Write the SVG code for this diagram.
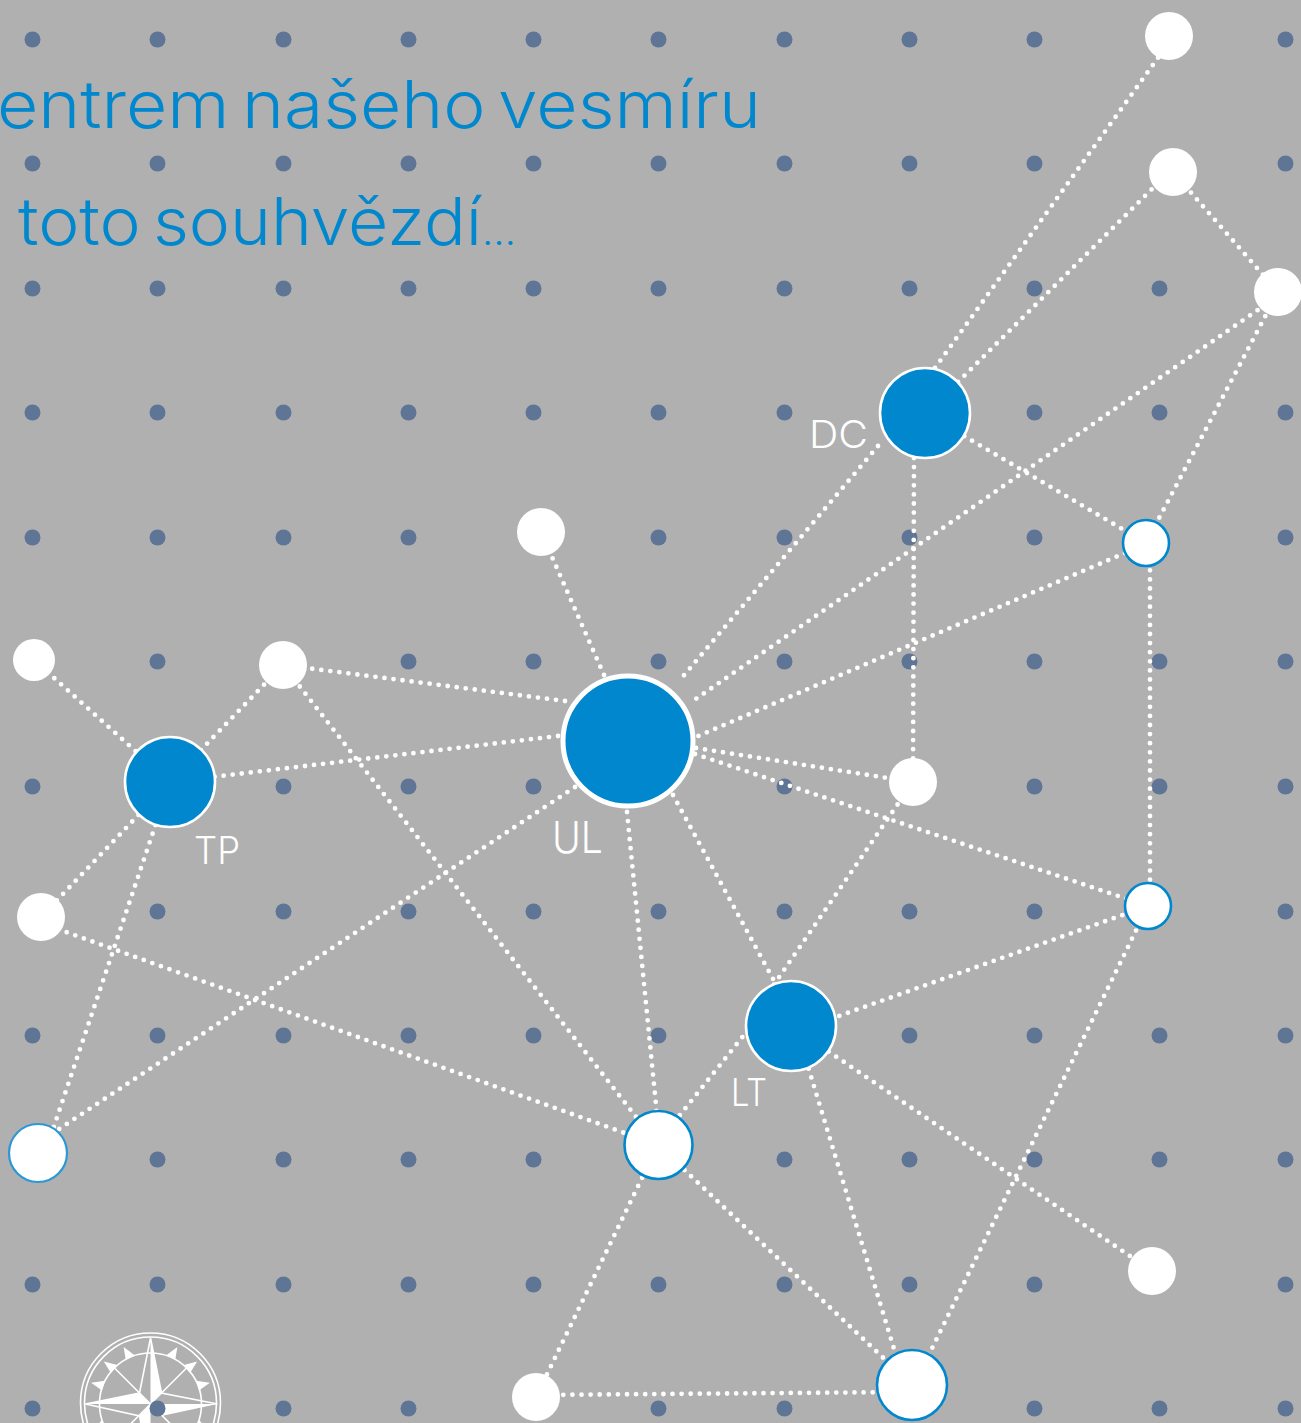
<svg xmlns="http://www.w3.org/2000/svg" xmlns:xlink="http://www.w3.org/1999/xlink" width="1301" height="1423" viewBox="0 0 1301 1423">
<style>
.g{fill:#5f7596}
.e{stroke:#fff;stroke-width:4.8;stroke-linecap:round;stroke-dasharray:0 9.1;fill:none}
.w{fill:#fff}
.b{fill:#fff;stroke:#0087cd;stroke-width:2.6}
.h{fill:#0087cd;stroke:#fff;stroke-width:2.6}
.t{font-family:"Inter","Liberation Sans",sans-serif;font-weight:300;fill:#0087cd;font-size:66px;word-spacing:-7px}
.l{font-family:"Inter","Liberation Sans",sans-serif;font-weight:300;fill:#fff;font-size:38px}
.c{fill:none;stroke:#fff;stroke-width:1.6}
</style>
<defs>
<circle id="d" r="8" class="g"/>
<path id="tri" d="M-6-50L4-51L-3-63Z" class="w"/>
</defs>
<rect width="1301" height="1423" fill="#b0b0b0"/>
<g id="compass" transform="translate(0.5 0)">
<circle cx="150" cy="1403" r="70" class="c"/>
<circle cx="150" cy="1403" r="66" class="c"/>
<circle cx="150" cy="1404" r="51" class="c"/>
<path class="c" d="M150 1404L114 1368M150 1404L186 1368M150 1404L114 1440M150 1404L186 1440"/>
<g transform="translate(150 1404)">
<use xlink:href="#tri" href="#tri" transform="rotate(-22.5)"/><use xlink:href="#tri" href="#tri" transform="rotate(-45)"/><use xlink:href="#tri" href="#tri" transform="rotate(-67.5)"/>
<use xlink:href="#tri" href="#tri" transform="scale(-1 1) rotate(-22.5)"/><use xlink:href="#tri" href="#tri" transform="scale(-1 1) rotate(-45)"/><use xlink:href="#tri" href="#tri" transform="scale(-1 1) rotate(-67.5)"/>
<use xlink:href="#tri" href="#tri" transform="rotate(-112.5)"/><use xlink:href="#tri" href="#tri" transform="scale(-1 1) rotate(-112.5)"/>
</g>
<path class="w" d="M150 1338L161 1393L150 1404ZM217 1404L161 1416L150 1404ZM85 1404L139 1393L150 1404ZM150 1470L139 1416L150 1404Z"/>
<path class="c" d="M150 1338L139 1393L85 1404L139 1416L150 1470M217 1404L161 1393L150 1338"/>
</g>
<g id="grid" transform="translate(0.5 0.5)">
<use xlink:href="#d" href="#d" x="32" y="39"/><use xlink:href="#d" href="#d" x="157" y="39"/><use xlink:href="#d" href="#d" x="283" y="39"/><use xlink:href="#d" href="#d" x="408" y="39"/><use xlink:href="#d" href="#d" x="533" y="39"/><use xlink:href="#d" href="#d" x="658" y="39"/><use xlink:href="#d" href="#d" x="784" y="39"/><use xlink:href="#d" href="#d" x="909" y="39"/><use xlink:href="#d" href="#d" x="1034" y="39"/><use xlink:href="#d" href="#d" x="1285" y="39"/>
<use xlink:href="#d" href="#d" x="32" y="163"/><use xlink:href="#d" href="#d" x="157" y="163"/><use xlink:href="#d" href="#d" x="283" y="163"/><use xlink:href="#d" href="#d" x="408" y="163"/><use xlink:href="#d" href="#d" x="533" y="163"/><use xlink:href="#d" href="#d" x="658" y="163"/><use xlink:href="#d" href="#d" x="784" y="163"/><use xlink:href="#d" href="#d" x="909" y="163"/><use xlink:href="#d" href="#d" x="1034" y="163"/><use xlink:href="#d" href="#d" x="1159" y="163"/><use xlink:href="#d" href="#d" x="1285" y="163"/>
<use xlink:href="#d" href="#d" x="32" y="288"/><use xlink:href="#d" href="#d" x="157" y="288"/><use xlink:href="#d" href="#d" x="283" y="288"/><use xlink:href="#d" href="#d" x="408" y="288"/><use xlink:href="#d" href="#d" x="533" y="288"/><use xlink:href="#d" href="#d" x="658" y="288"/><use xlink:href="#d" href="#d" x="784" y="288"/><use xlink:href="#d" href="#d" x="909" y="288"/><use xlink:href="#d" href="#d" x="1034" y="288"/><use xlink:href="#d" href="#d" x="1159" y="288"/>
<use xlink:href="#d" href="#d" x="32" y="412"/><use xlink:href="#d" href="#d" x="157" y="412"/><use xlink:href="#d" href="#d" x="283" y="412"/><use xlink:href="#d" href="#d" x="408" y="412"/><use xlink:href="#d" href="#d" x="533" y="412"/><use xlink:href="#d" href="#d" x="658" y="412"/><use xlink:href="#d" href="#d" x="784" y="412"/><use xlink:href="#d" href="#d" x="1034" y="412"/><use xlink:href="#d" href="#d" x="1159" y="412"/><use xlink:href="#d" href="#d" x="1285" y="412"/>
<use xlink:href="#d" href="#d" x="32" y="537"/><use xlink:href="#d" href="#d" x="157" y="537"/><use xlink:href="#d" href="#d" x="283" y="537"/><use xlink:href="#d" href="#d" x="408" y="537"/><use xlink:href="#d" href="#d" x="658" y="537"/><use xlink:href="#d" href="#d" x="784" y="537"/><use xlink:href="#d" href="#d" x="909" y="537"/><use xlink:href="#d" href="#d" x="1034" y="537"/><use xlink:href="#d" href="#d" x="1285" y="537"/>
<use xlink:href="#d" href="#d" x="157" y="661"/><use xlink:href="#d" href="#d" x="408" y="661"/><use xlink:href="#d" href="#d" x="533" y="661"/><use xlink:href="#d" href="#d" x="658" y="661"/><use xlink:href="#d" href="#d" x="784" y="661"/><use xlink:href="#d" href="#d" x="909" y="661"/><use xlink:href="#d" href="#d" x="1034" y="661"/><use xlink:href="#d" href="#d" x="1159" y="661"/><use xlink:href="#d" href="#d" x="1285" y="661"/>
<use xlink:href="#d" href="#d" x="32" y="786"/><use xlink:href="#d" href="#d" x="283" y="786"/><use xlink:href="#d" href="#d" x="408" y="786"/><use xlink:href="#d" href="#d" x="533" y="786"/><use xlink:href="#d" href="#d" x="784" y="786"/><use xlink:href="#d" href="#d" x="1034" y="786"/><use xlink:href="#d" href="#d" x="1159" y="786"/><use xlink:href="#d" href="#d" x="1285" y="786"/>
<use xlink:href="#d" href="#d" x="157" y="911"/><use xlink:href="#d" href="#d" x="283" y="911"/><use xlink:href="#d" href="#d" x="408" y="911"/><use xlink:href="#d" href="#d" x="533" y="911"/><use xlink:href="#d" href="#d" x="658" y="911"/><use xlink:href="#d" href="#d" x="784" y="911"/><use xlink:href="#d" href="#d" x="909" y="911"/><use xlink:href="#d" href="#d" x="1034" y="911"/><use xlink:href="#d" href="#d" x="1285" y="911"/>
<use xlink:href="#d" href="#d" x="32" y="1035"/><use xlink:href="#d" href="#d" x="157" y="1035"/><use xlink:href="#d" href="#d" x="283" y="1035"/><use xlink:href="#d" href="#d" x="408" y="1035"/><use xlink:href="#d" href="#d" x="533" y="1035"/><use xlink:href="#d" href="#d" x="658" y="1035"/><use xlink:href="#d" href="#d" x="909" y="1035"/><use xlink:href="#d" href="#d" x="1034" y="1035"/><use xlink:href="#d" href="#d" x="1159" y="1035"/><use xlink:href="#d" href="#d" x="1285" y="1035"/>
<use xlink:href="#d" href="#d" x="157" y="1159"/><use xlink:href="#d" href="#d" x="283" y="1159"/><use xlink:href="#d" href="#d" x="408" y="1159"/><use xlink:href="#d" href="#d" x="533" y="1159"/><use xlink:href="#d" href="#d" x="784" y="1159"/><use xlink:href="#d" href="#d" x="909" y="1159"/><use xlink:href="#d" href="#d" x="1034" y="1159"/><use xlink:href="#d" href="#d" x="1159" y="1159"/><use xlink:href="#d" href="#d" x="1285" y="1159"/>
<use xlink:href="#d" href="#d" x="32" y="1284"/><use xlink:href="#d" href="#d" x="157" y="1284"/><use xlink:href="#d" href="#d" x="283" y="1284"/><use xlink:href="#d" href="#d" x="408" y="1284"/><use xlink:href="#d" href="#d" x="533" y="1284"/><use xlink:href="#d" href="#d" x="658" y="1284"/><use xlink:href="#d" href="#d" x="784" y="1284"/><use xlink:href="#d" href="#d" x="909" y="1284"/><use xlink:href="#d" href="#d" x="1034" y="1284"/><use xlink:href="#d" href="#d" x="1285" y="1284"/>
<use xlink:href="#d" href="#d" x="32" y="1408"/><use xlink:href="#d" href="#d" x="157" y="1408"/><use xlink:href="#d" href="#d" x="283" y="1408"/><use xlink:href="#d" href="#d" x="408" y="1408"/><use xlink:href="#d" href="#d" x="658" y="1408"/><use xlink:href="#d" href="#d" x="784" y="1408"/><use xlink:href="#d" href="#d" x="1034" y="1408"/><use xlink:href="#d" href="#d" x="1159" y="1408"/><use xlink:href="#d" href="#d" x="1285" y="1408"/>
</g>
<g id="connectors" class="e">
<path d="M935 368L1160 55"/><path d="M958 382L1153 188"/><path d="M1173 172L1278 292"/><path d="M1278 292L1146 543"/><path d="M1265 305L690 703"/><path d="M925 413L1146 543"/><path d="M878 446L680 680"/><path d="M914 458L913 782"/><path d="M1125 553L696 737"/><path d="M1150 543L1150 906"/><path d="M696 748L913 782"/><path d="M695 754L1148 906"/><path d="M604 675L541 532"/><path d="M565 701L283 665"/><path d="M558 736L170 782"/><path d="M575 787L38 1143"/><path d="M627 812L660 1145"/><path d="M673 795L791 1012"/><path d="M283 665L170 782"/><path d="M283 665L658 1145"/><path d="M34 660L170 782"/><path d="M170 782L41 917"/><path d="M170 782L45 1153"/><path d="M41 923L658 1145"/><path d="M913 782L760 1005"/><path d="M1148 906L791 1033"/><path d="M1148 906L920 1373"/><path d="M748 1030L668 1130"/><path d="M806 1060L905 1385"/><path d="M791 1026L1152 1271"/><path d="M658 1145L536 1397"/><path d="M658 1145L912 1385"/><path d="M536 1395L912 1392"/>
</g>
<g id="title">
<text class="t" x="-3" y="128" textLength="764" lengthAdjust="spacingAndGlyphs">entrem našeho vesmíru</text>
<text class="t" x="18" y="245" textLength="498" lengthAdjust="spacingAndGlyphs">toto souhvězdí<tspan style="font-size:38px">…</tspan></text>
</g>
<g id="n-a"><circle cx="1169" cy="36" r="24" class="w"/></g>
<g id="n-b"><circle cx="1173" cy="172" r="24" class="w"/></g>
<g id="n-c"><circle cx="1278" cy="292" r="24" class="w"/></g>
<g id="n-dc"><circle cx="925" cy="413" r="45" class="h"/><text class="l" x="809" y="448" textLength="59" lengthAdjust="spacingAndGlyphs">DC</text></g>
<g id="n-d"><circle cx="1146" cy="543" r="23" class="b"/></g>
<g id="n-ul"><circle cx="628" cy="741" r="65" fill="#0087cd" stroke="#fff" stroke-width="5"/><text class="l" x="552" y="853" style="font-size:44px" textLength="51" lengthAdjust="spacingAndGlyphs">UL</text></g>
<g id="n-e"><circle cx="541" cy="532" r="24" class="w"/></g>
<g id="n-f"><circle cx="283" cy="665" r="24" class="w"/></g>
<g id="n-g"><circle cx="34" cy="660" r="21" class="w"/></g>
<g id="n-tp"><circle cx="170" cy="782" r="45" class="h"/><text class="l" x="194" y="864" textLength="46" lengthAdjust="spacingAndGlyphs">TP</text></g>
<g id="n-h"><circle cx="41" cy="917" r="24" class="w"/></g>
<g id="n-i"><circle cx="38" cy="1153" r="29" fill="#fff" stroke="#2a97d6" stroke-width="2.2"/></g>
<g id="n-j"><circle cx="913" cy="782" r="24" class="w"/></g>
<g id="n-k"><circle cx="1148" cy="906" r="23" class="b"/></g>
<g id="n-lt"><circle cx="791" cy="1026" r="45" class="h"/><text class="l" x="731" y="1106" textLength="36" lengthAdjust="spacingAndGlyphs">LT</text></g>
<g id="n-l"><circle cx="658.5" cy="1145" r="34" class="b"/></g>
<g id="n-m"><circle cx="1152" cy="1271" r="24" class="w"/></g>
<g id="n-n"><circle cx="536" cy="1397" r="24" class="w"/></g>
<g id="n-o"><circle cx="912" cy="1385" r="35" class="b"/></g>
</svg>
